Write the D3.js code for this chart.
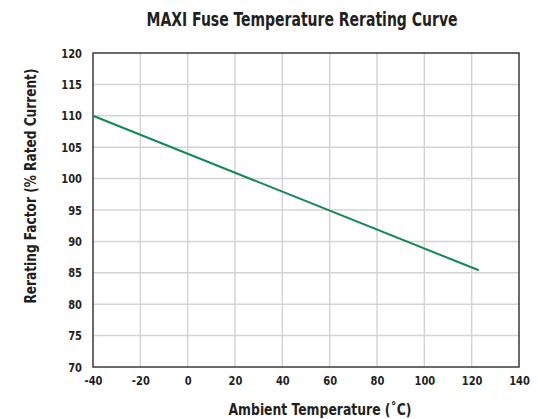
<!DOCTYPE html>
<html>
<head>
<meta charset="utf-8">
<script src="https://cdn.jsdelivr.net/npm/d3@7"></script>
<style>
  body { margin: 0; background: #fff; }
  svg text { font-family: "Liberation Sans Narrow", "DejaVu Sans Condensed", "Liberation Sans", sans-serif; font-weight: bold; fill: #231f20; }
</style>
</head>
<body>
<div id="chart"></div>
<script>
// chart data
const temps = [-40, 123];
const rerating = [110, 85.4];
const xTicks = [-40, -20, 0, 20, 40, 60, 80, 100, 120, 140];
const yTicks = [70, 75, 80, 85, 90, 95, 100, 105, 110, 115, 120];

const width = 538, height = 419;
const margin = { top: 53, right: 19, bottom: 52, left: 93 };

const svg = d3.select('#chart').append('svg')
    .attr('width', width)
    .attr('height', height);

const x = d3.scaleLinear().domain([-40, 140]).range([margin.left, width - margin.right]);
const y = d3.scaleLinear().domain([70, 120]).range([height - margin.bottom, margin.top]);

// grid
svg.append('g').selectAll('line')
    .data(xTicks.slice(1, -1))
    .enter().append('line')
    .attr('x1', d => x(d)).attr('x2', d => x(d))
    .attr('y1', y(120)).attr('y2', y(70))
    .attr('stroke', '#d4d4d4')
    .attr('stroke-width', 1.5);

svg.append('g').selectAll('line')
    .data(yTicks.slice(1, -1))
    .enter().append('line')
    .attr('x1', x(-40)).attr('x2', x(140))
    .attr('y1', d => y(d)).attr('y2', d => y(d))
    .attr('stroke', '#d4d4d4')
    .attr('stroke-width', 1.5);

// frame
svg.append('rect')
    .attr('x', x(-40)).attr('y', y(120))
    .attr('width', x(140) - x(-40))
    .attr('height', y(70) - y(120))
    .attr('fill', 'none')
    .attr('stroke', '#3a3a3a')
    .attr('stroke-width', 1.5);

// axes (labels only)
const fmt = d => String(d); // plain hyphen minus like the original
const xAxis = svg.append('g')
    .attr('transform', `translate(0,${y(70)})`)
    .call(d3.axisBottom(x).tickValues(xTicks).tickFormat(fmt).tickSize(0).tickPadding(9));
const yAxis = svg.append('g')
    .attr('transform', `translate(${x(-40)},0)`)
    .call(d3.axisLeft(y).tickValues(yTicks).tickFormat(fmt).tickSize(0).tickPadding(0));
[xAxis, yAxis].forEach(a => {
    a.select('.domain').remove();
    a.selectAll('text')
        .style('font-family', '"Liberation Sans Narrow", "DejaVu Sans Condensed", sans-serif')
        .style('font-weight', 'bold')
        .style('font-size', '13px')
        .attr('fill', '#231f20');
});
xAxis.selectAll('text').attr('transform', 'scale(0.85,1)');
yAxis.selectAll('text').attr('x', -13).attr('transform', 'scale(0.85,1)');

// curve
const line = d3.line().x((d, i) => x(temps[i])).y(d => y(d));
svg.append('path')
    .datum(rerating)
    .attr('d', line)
    .attr('fill', 'none')
    .attr('stroke', '#0f8a55')
    .attr('stroke-width', 2);

// titles
svg.append('text')
    .attr('x', 302).attr('y', 26)
    .attr('text-anchor', 'middle')
    .attr('textLength', 311)
    .attr('lengthAdjust', 'spacingAndGlyphs')
    .style('font-size', '19px')
    .text('MAXI Fuse Temperature Rerating Curve');

svg.append('text')
    .attr('x', 320).attr('y', 415)
    .attr('text-anchor', 'middle')
    .attr('textLength', 183)
    .attr('lengthAdjust', 'spacingAndGlyphs')
    .style('font-size', '16.5px')
    .text('Ambient Temperature (˚C)');

svg.append('text')
    .attr('transform', 'translate(36,186) rotate(-90)')
    .attr('text-anchor', 'middle')
    .attr('textLength', 235)
    .attr('lengthAdjust', 'spacingAndGlyphs')
    .style('font-size', '16.5px')
    .text('Rerating Factor (% Rated Current)');
</script>
</body>
</html>
